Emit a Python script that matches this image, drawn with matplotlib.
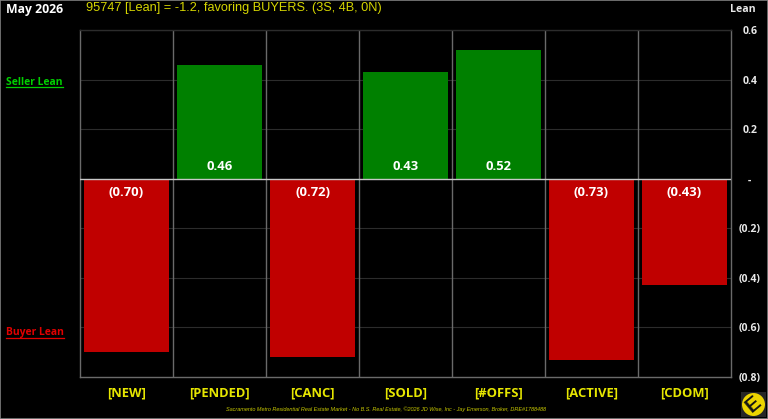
import matplotlib
matplotlib.use("Agg")
import matplotlib.pyplot as plt
from matplotlib.lines import Line2D
from matplotlib.patches import Circle, Rectangle

categories = ["[NEW]", "[PENDED]", "[CANC]", "[SOLD]", "[#OFFS]", "[ACTIVE]", "[CDOM]"]
lean_values = [-0.70, 0.46, -0.72, 0.43, 0.52, -0.73, -0.43]
value_labels = ["(0.70)", "0.46", "(0.72)", "0.43", "0.52", "(0.73)", "(0.43)"]
y_ticks = [0.6, 0.4, 0.2, 0.0, -0.2, -0.4, -0.6, -0.8]
y_tick_labels = ["0.6", "0.4", "0.2", "-", "(0.2)", "(0.4)", "(0.6)", "(0.8)"]

W, H = 768, 419
UI = "Open Sans"
GREEN, RED, YELLOW = "#008000", "#c00000", "#e6e600"

fig = plt.figure(figsize=(W / 100, H / 100), dpi=100, facecolor="black")


def fx(px):
    return px / W


def fy(py):
    return 1 - py / H


ax = fig.add_axes([fx(80), fy(377), (731 - 80) / W, (377 - 30) / H], facecolor="black")
ax.set_xlim(-0.5, len(categories) - 0.5)
ax.set_ylim(-0.8, 0.6)

# Horizontal gridlines and the column separators sit behind the bars
for t in y_ticks:
    if t != 0:
        ax.axhline(t, color="#2c2c2c", lw=0.8, zorder=1)
for i in range(len(categories) - 1):
    ax.axvline(i + 0.5, color="#6a6a6a", lw=1.0, zorder=1)

colors = [GREEN if v > 0 else RED for v in lean_values]
ax.bar(range(len(categories)), lean_values, width=0.91, color=colors, zorder=2)
ax.axhline(0, color="#c8c8c8", lw=1.0, zorder=3)

# Values sit just inside each bar, next to the zero line
for i, (v, label) in enumerate(zip(lean_values, value_labels)):
    offset = 8.6 if v > 0 else -10
    ax.annotate(label, (i, 0), xytext=(0, offset), textcoords="offset points",
                ha="center", va="center", color="white", fontsize=9.4,
                fontweight="bold", family=UI, zorder=4)

for side in ax.spines.values():
    side.set_color("#6a6a6a")
    side.set_linewidth(1.0)
ax.spines["top"].set_color("#2c2c2c")

ax.set_xticks(range(len(categories)))
ax.set_xticklabels(categories, color=YELLOW, fontsize=9.4, fontweight="bold", family=UI)
ax.tick_params(axis="x", length=0, pad=7)
ax.yaxis.tick_right()
ax.set_yticks(y_ticks)
ax.set_yticklabels(y_tick_labels, color="#e8e8e8", fontsize=7.6, fontweight="bold", family=UI)
ax.tick_params(axis="y", length=0, pad=13.5)
for lab in ax.get_yticklabels():
    lab.set_ha("center")

fig.text(fx(6), fy(10), "May 2026", color="white", fontsize=8.8, fontweight="bold",
         family=UI, ha="left", va="center")
fig.text(fx(86), fy(8), "95747 [Lean] = -1.2, favoring BUYERS. (3S, 4B, 0N)", color="#d6d600",
         fontsize=9.2, family="Liberation Sans", ha="left", va="center")
fig.text(fx(743), fy(10), "Lean", color="#e8e8e8", fontsize=7.6, fontweight="bold",
         family=UI, ha="center", va="center")

# Underlined side captions
fig.text(fx(6), fy(82), "Seller Lean", color="#00d000", fontsize=7.5, fontweight="bold",
         family=UI, ha="left", va="center")
fig.add_artist(Line2D([fx(6), fx(63)], [fy(87.5)] * 2, color="#00d000", lw=0.9))
fig.text(fx(6), fy(332), "Buyer Lean", color="#e00000", fontsize=7.5, fontweight="bold",
         family=UI, ha="left", va="center")
fig.add_artist(Line2D([fx(6), fx(64)], [fy(337.5)] * 2, color="#e00000", lw=0.9))

fig.text(fx(386), fy(409), "Sacramento Metro Residential Real Estate Market - No B.S. Real Estate, "
         "\u00a92026 JD Wise, Inc - Jay Emerson, Broker, DRE#1788488",
         color="#c8c800", fontsize=4.0, style="italic", family="Liberation Sans",
         ha="center", va="center")

# Corner logo: yellow disc with a tilted E, on its own top-level axes
logo = fig.add_axes([fx(741), fy(417), 25 / W, 25 / H], facecolor="#262626", zorder=5)
logo.set_xlim(0, 25)
logo.set_ylim(0, 25)
logo.set_xticks([])
logo.set_yticks([])
for side in logo.spines.values():
    side.set_visible(False)
logo.add_patch(Circle((12.5, 12.5), 11.5, facecolor="#ecd400", edgecolor="none"))
logo.text(12.5, 12.5, "E", color="#151515", fontsize=15, fontweight="bold", rotation=40,
          family="Liberation Sans", ha="center", va="center")

# Thin frame around the whole figure
fig.add_artist(Rectangle((0, 0), 1, 1, transform=fig.transFigure, facecolor="none",
                         edgecolor="#808080", lw=1.2))

fig.savefig("out.png", dpi=100, facecolor="black")
